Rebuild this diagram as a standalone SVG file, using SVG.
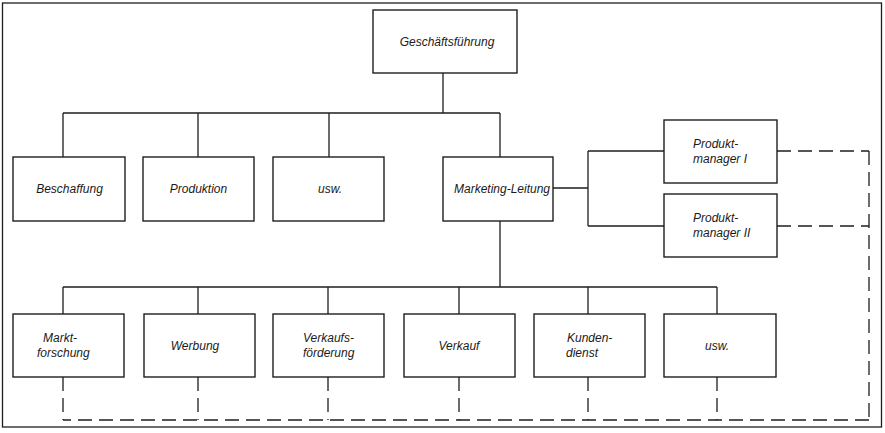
<svg xmlns="http://www.w3.org/2000/svg" width="885" height="433" viewBox="0 0 885 433">
<style>
.box{fill:#fff;stroke:#1e1e1e;stroke-width:1.4}
.ln{fill:none;stroke:#1e1e1e;stroke-width:1.3}
.ds{fill:none;stroke:#1e1e1e;stroke-width:1.3;stroke-dasharray:14 7}
text{font-family:"Liberation Sans",Arial,sans-serif;font-style:italic;font-size:12px;fill:#1a1a1a}
.c{text-anchor:middle}
</style>
<rect width="885" height="433" fill="#fff"/>
<rect x="2.5" y="3" width="879" height="424" class="ln"/>
<g id="connectors">
<path class="ln" d="M443 73V113M63 113H500M63 113V157M198 113V157M329 113V157M500 113V157"/>
<path class="ln" d="M553 188H588M588 151V226M588 151H664M588 226H664"/>
<path class="ln" d="M500 221V287M63 287H717M63 287V314M198 287V314M328 287V314M459 287V314M588 287V314M717 287V314"/>
<path class="ds" d="M777 151H869M777 226H869M869 151V420M869 420H63"/>
<path class="ds" d="M63 377V420M198 377V420M328 377V420M459 377V420M588 377V420M717 377V420"/>
</g>
<g id="geschaeftsfuehrung"><rect class="box" x="373" y="10" width="144" height="63"/><text class="c" x="447" y="46">Geschäftsführung</text></g>
<g id="beschaffung"><rect class="box" x="13" y="157" width="112" height="64"/><text class="c" x="69.5" y="193">Beschaffung</text></g>
<g id="produktion"><rect class="box" x="143" y="157" width="111" height="64"/><text class="c" x="198.5" y="193">Produktion</text></g>
<g id="usw1"><rect class="box" x="273" y="157" width="111" height="64"/><text class="c" x="330" y="193">usw.</text></g>
<g id="marketing"><rect class="box" x="443" y="157" width="110" height="64"/><text class="c" x="502" y="193">Marketing-Leitung</text></g>
<g id="pm1"><rect class="box" x="664" y="120" width="113" height="63"/><text x="693" y="148">Produkt-</text><text x="693" y="163">manager I</text></g>
<g id="pm2"><rect class="box" x="664" y="194" width="113" height="63"/><text x="693" y="222">Produkt-</text><text x="693" y="237">manager II</text></g>
<g id="marktforschung"><rect class="box" x="13" y="314" width="111" height="63"/><text x="43" y="342">Markt-</text><text x="37" y="357">forschung</text></g>
<g id="werbung"><rect class="box" x="144" y="314" width="111" height="63"/><text class="c" x="195" y="350">Werbung</text></g>
<g id="verkaufsfoerderung"><rect class="box" x="273" y="314" width="111" height="63"/><text x="303" y="342">Verkaufs-</text><text x="303" y="357">förderung</text></g>
<g id="verkauf"><rect class="box" x="404" y="314" width="111" height="63"/><text class="c" x="459" y="350">Verkauf</text></g>
<g id="kundendienst"><rect class="box" x="534" y="314" width="111" height="63"/><text x="567" y="342">Kunden-</text><text x="566" y="357">dienst</text></g>
<g id="usw2"><rect class="box" x="664" y="314" width="112" height="63"/><text class="c" x="717" y="350">usw.</text></g>
</svg>
